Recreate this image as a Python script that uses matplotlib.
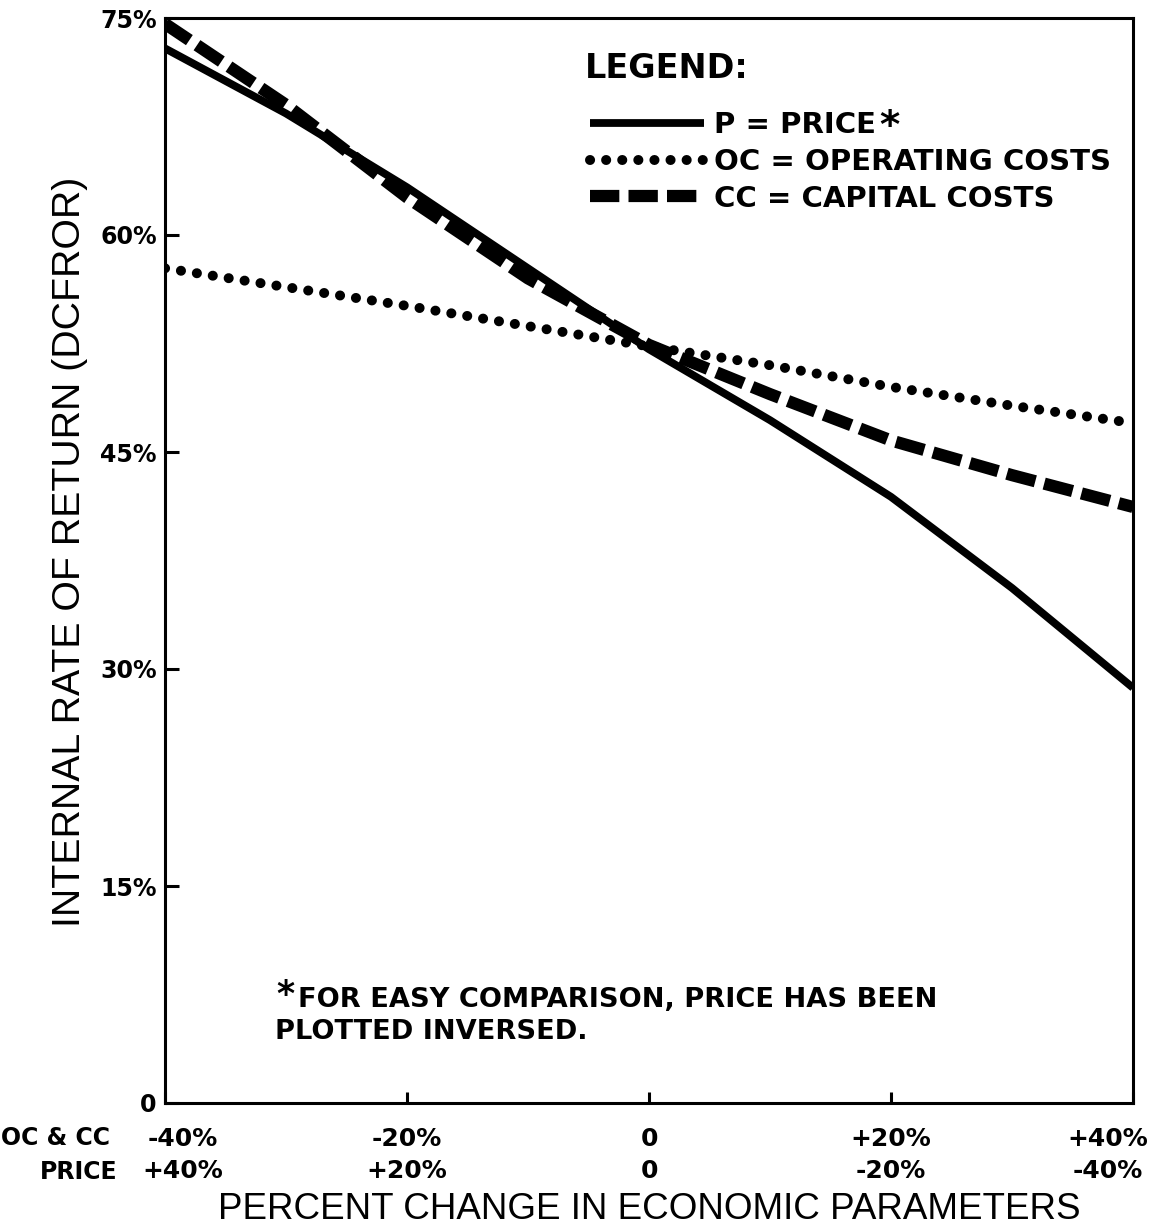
import matplotlib
matplotlib.use("Agg")
import matplotlib.pyplot as plt
import matplotlib.transforms as mtransforms

# percent change in the parameter (OC & CC axis); price is plotted inversed
change = [-40, -30, -20, -10, 0, 10, 20, 30, 40]
price_irr = [72.9, 68.4, 63.3, 57.7, 52.1, 47.2, 41.9, 35.6, 28.7]
oc_irr = [57.7, 56.4, 55.1, 53.7, 52.3, 51.0, 49.5, 48.2, 47.0]
cc_irr = [74.6, 69.0, 62.6, 57.0, 52.4, 49.0, 45.8, 43.4, 41.2]

xticks = [-40, -20, 0, 20, 40]
occc_labels = ["-40%", "-20%", "0", "+20%", "+40%"]
price_labels = ["+40%", "+20%", "0", "-20%", "-40%"]
yticks = [0, 15, 30, 45, 60, 75]
ytick_labels = ["0", "15%", "30%", "45%", "60%", "75%"]

plt.rcParams['font.family'] = ['DejaVu Sans']

fig = plt.figure(figsize=(11.58, 12.28), dpi=100)
ax = fig.add_axes([165 / 1158, 1 - 1103 / 1228, (1133 - 165) / 1158, (1103 - 18) / 1228])

ax.plot(change, price_irr, color='black', lw=5.6, solid_capstyle='butt',
        label="P = PRICE")
ax.plot(change, oc_irr, color='black', lw=7.2, linestyle=(0, (0.01, 1.6)),
        dash_capstyle='round', label="OC = OPERATING COSTS")
ax.plot(change, cc_irr, color='black', lw=8.8, linestyle=(0, (2.4, 0.75)),
        dash_capstyle='butt', label="CC = CAPITAL COSTS")

ax.set_xlim(-40, 40)
ax.set_ylim(0, 75)
for s in ax.spines.values():
    s.set_linewidth(2.2)

ax.set_yticks(yticks)
ax.set_yticklabels(ytick_labels, fontsize=17, fontweight='bold')
ax.tick_params(axis='y', direction='in', length=10, width=2.2, pad=6)

ax.set_xticks(xticks)
ax.set_xticklabels([a + "\n" + b for a, b in zip(occc_labels, price_labels)],
                   fontsize=18, fontweight='bold', linespacing=1.45)
ax.tick_params(axis='x', direction='in', length=8, width=2.2, pad=17)
xl = ax.get_xticklabels()
xl[0].set_transform(xl[0].get_transform() + mtransforms.ScaledTranslation(18 / 100, 0, fig.dpi_scale_trans))
xl[-1].set_transform(xl[-1].get_transform() + mtransforms.ScaledTranslation(-25 / 100, 0, fig.dpi_scale_trans))

fig.text(110 / 1158, 1 - 1138 / 1228, "OC & CC", ha='right', va='center',
         fontsize=17, fontweight='bold')
fig.text(117 / 1158, 1 - 1172 / 1228, "PRICE", ha='right', va='center',
         fontsize=17, fontweight='bold')

ax.set_ylabel("INTERNAL RATE OF RETURN (DCFROR)", fontsize=28.3,
              family='Liberation Sans', va='center')
ax.yaxis.set_label_coords(-0.098, 0.508)
ax.set_xlabel("PERCENT CHANGE IN ECONOMIC PARAMETERS", fontsize=26.5,
              family='Liberation Sans', va='center')
ax.xaxis.set_label_coords(0.5, -0.0985)

ax.text(0.434, 0.953, "LEGEND:", transform=ax.transAxes, fontsize=24,
        fontweight='bold', ha='left', va='center')
leg = ax.legend(loc='upper left', bbox_to_anchor=(0.427, 0.925), frameon=False,
                handlelength=3.9, handletextpad=0.35, labelspacing=0.3,
                borderaxespad=0, prop={'size': 21, 'weight': 'bold'})

# raised asterisk after "PRICE" in the legend
fig.canvas.draw()
bb = leg.get_texts()[0].get_window_extent()
fig.text((bb.x1 + 3) / 1158, (bb.y1 - 16) / 1228, "*", fontsize=28,
         fontweight='bold', ha='left', va='center')

ax.text(-30.8, 7.5, "*", fontsize=25, fontweight='bold', ha='left', va='center')
ax.text(-29.0, 7.1, "FOR EASY COMPARISON, PRICE HAS BEEN", fontsize=19.6,
        fontweight='bold', ha='left', va='center')
ax.text(-30.9, 4.9, "PLOTTED INVERSED.", fontsize=19.6,
        fontweight='bold', ha='left', va='center')

fig.savefig("out.png", dpi=100)
